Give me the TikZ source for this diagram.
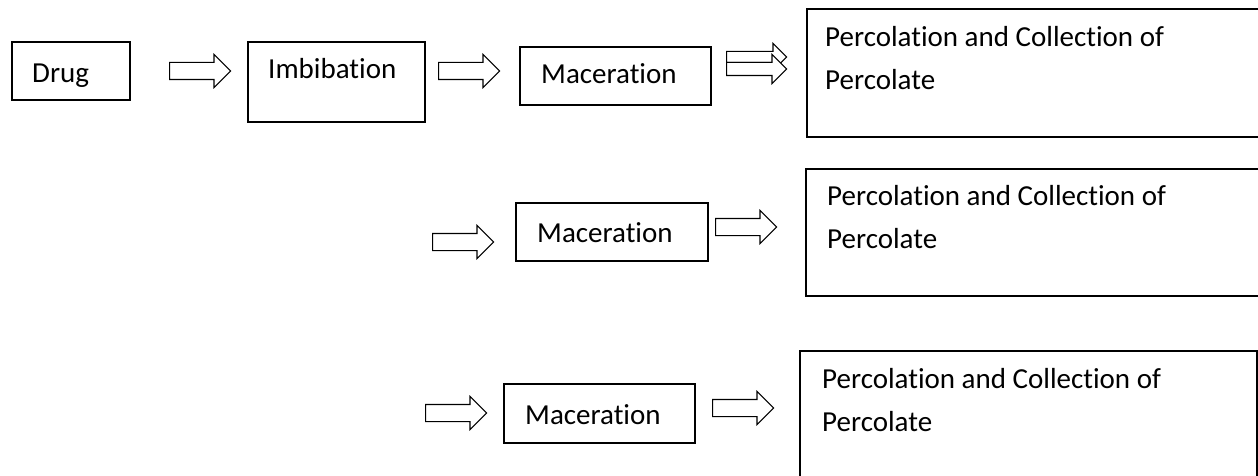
\documentclass[tikz,border=0pt]{standalone}
\usepackage{fontspec}
\setmainfont{Carlito}[Ligatures=NoCommon]
\usetikzlibrary{shapes.arrows}

\begin{document}
\begin{tikzpicture}[x=1pt, y=-1pt,
    stage/.style={draw, line width=1.6pt, anchor=north west, inner sep=0pt},
    caption/.style={anchor=base west, inner sep=0pt, align=left,
      font=\fontsize{29}{43}\selectfont},
    fat arrow/.style={single arrow, draw, line width=1.1pt, fill=white,
      anchor=tail, inner xsep=0pt, inner ysep=8pt,
      single arrow head extend=8pt, minimum height=61pt}]
  \clip (0,0) rectangle (1258,476);
  \fill [white] (0,0) rectangle (1258,476);

  % first row
  \node [stage, minimum width=118pt, minimum height=58pt] (drug) at (11,41) {};
  \node [caption] (drugtxt) at (32,83) {Drug};
  \node [fat arrow] (a1) at (169,71) {};
  \node [stage, minimum width=177pt, minimum height=80pt] (imbib) at (247,41) {};
  \node [caption] (imbibtxt) at (268,79) {Imbibation};
  \node [fat arrow] (a2) at (438,71) {};
  \node [stage, minimum width=191pt, minimum height=58pt] (mac1) at (519,46) {};
  \node [caption] (mac1txt) at (541,84) {Maceration};
  % two arrows stacked on top of each other
  \node [fat arrow, inner ysep=5pt, minimum height=60pt] (a3) at (726,57) {};
  \node [fat arrow, inner ysep=6pt, minimum height=60pt] (a4) at (726,69) {};
  \node [stage, minimum width=520pt, minimum height=128pt] (perc1) at (806,8) {};
  % multi-line captions sit on the baseline of their last line
  \node [caption] (perc1txt) at (825,90) {Percolation and Collection of\\Percolate};

  % second row
  \node [fat arrow] (b1) at (432,242) {};
  \node [stage, minimum width=192pt, minimum height=58pt] (mac2) at (515,202) {};
  \node [caption] (mac2txt) at (537,242) {Maceration};
  \node [fat arrow] (b2) at (715,227) {};
  \node [stage, minimum width=520pt, minimum height=127pt] (perc2) at (805,168) {};
  \node [caption] (perc2txt) at (827,248) {Percolation and Collection of\\Percolate};

  % third row
  \node [fat arrow] (c1) at (425,413) {};
  \node [stage, minimum width=191pt, minimum height=59pt] (mac3) at (503,383) {};
  \node [caption] (mac3txt) at (525,424) {Maceration};
  \node [fat arrow] (c2) at (712,408) {};
  \node [stage, minimum width=457pt, minimum height=160pt] (perc3) at (799,350) {};
  \node [caption] (perc3txt) at (822,431) {Percolation and Collection of\\Percolate};
\end{tikzpicture}
\end{document}
